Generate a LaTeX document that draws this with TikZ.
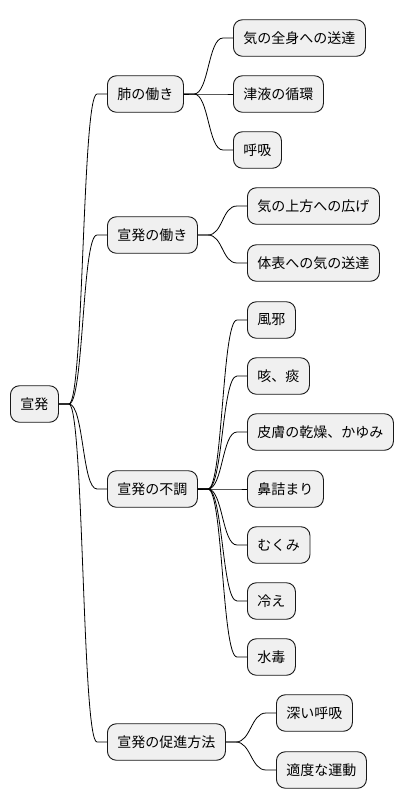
\documentclass[tikz,border=0pt]{standalone}
\usepackage{fontspec}
\setmainfont{Noto Sans CJK JP}
\begin{document}
\begin{tikzpicture}[x=1pt,y=-1pt,
    topic/.style={draw=black!90,fill=black!6,line width=0.9pt,rounded corners=9pt,
      minimum height=36.5pt,inner xsep=10pt,anchor=west,
      font=\fontsize{14pt}{16pt}\selectfont},
    branch/.style={line width=0.8pt}]
    \useasboundingbox (0,0) rectangle (404,809);
    % root and main topics
    \node[topic] (root) at (10,404) {宣発};
    \node[topic] (lung) at (107,94) {肺の働き};
    \node[topic] (work) at (107,235) {宣発の働き};
    \node[topic] (trouble) at (107,489) {宣発の不調};
    \node[topic] (promote) at (107,742) {宣発の促進方法};
    % leaves
    \node[topic] (lung1) at (233,38) {気の全身への送達};
    \node[topic] (lung2) at (233,94) {津液の循環};
    \node[topic] (lung3) at (233,150) {呼吸};
    \node[topic] (work1) at (247,206) {気の上方への広げ};
    \node[topic] (work2) at (247,263) {体表への気の送達};
    \node[topic] (trouble1) at (247,320) {風邪};
    \node[topic] (trouble2) at (247,376) {咳、痰};
    \node[topic] (trouble3) at (247,432) {皮膚の乾燥、かゆみ};
    \node[topic] (trouble4) at (247,489) {鼻詰まり};
    \node[topic] (trouble5) at (247,545) {むくみ};
    \node[topic] (trouble6) at (247,601) {冷え};
    \node[topic] (trouble7) at (247,657) {水毒};
    \node[topic] (promote1) at (276,713) {深い呼吸};
    \node[topic] (promote2) at (276,770) {適度な運動};

    \foreach \p/\c in {root/lung,root/work,root/trouble,root/promote,
        lung/lung1,lung/lung2,lung/lung3,work/work1,work/work2,
        trouble/trouble1,trouble/trouble2,trouble/trouble3,trouble/trouble4,
        trouble/trouble5,trouble/trouble6,trouble/trouble7,
        promote/promote1,promote/promote2}
      \draw[branch] (\p.east) -- ++(10,0) .. controls +(15,0) and +(-15,0) .. ([xshift=-10pt]\c.west) -- (\c.west);
\end{tikzpicture}
\end{document}
